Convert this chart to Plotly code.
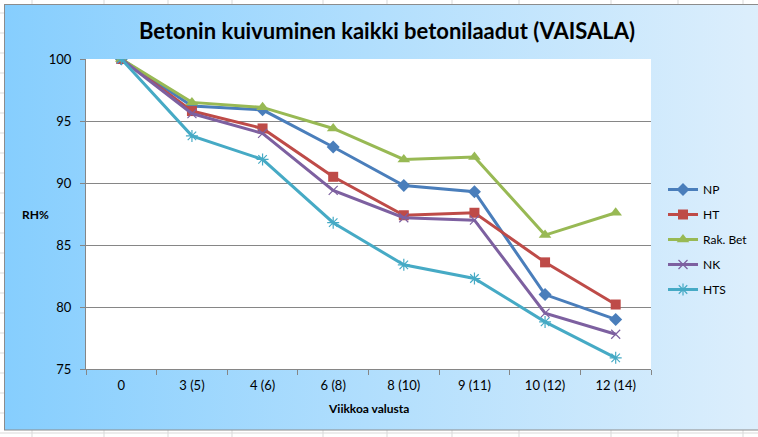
import base64
import plotly.graph_objects as go

categories = ["0", "3 (5)", "4 (6)", "6 (8)", "8 (10)", "9 (11)", "10 (12)", "12 (14)"]
np_vals = [100, 96.2, 95.9, 92.9, 89.8, 89.3, 81.0, 79.0]
ht_vals = [100, 95.8, 94.4, 90.5, 87.4, 87.6, 83.6, 80.2]
rak_vals = [100, 96.5, 96.1, 94.4, 91.9, 92.1, 85.8, 87.6]
nk_vals = [100, 95.6, 94.0, 89.4, 87.2, 87.0, 79.5, 77.8]
hts_vals = [100, 93.8, 91.9, 86.8, 83.4, 82.3, 78.8, 75.9]

W, H = 758, 437
L, R, T, B = 86, 651, 59, 369  # plot area in pixels
pw, ph = R - L, B - T

# background: excel sheet grid + gradient chart area (decoration)
grid_x = [32, 104, 168, 232, 323, 387, 452, 519, 611, 678, 743]
grid_lines = "".join(f'<line x1="{x}" y1="0" x2="{x}" y2="{H}" stroke="#D9D9D9" stroke-width="1"/>' for x in grid_x)
grid_lines += "".join(f'<line x1="0" y1="{y}" x2="{W}" y2="{y}" stroke="#D9D9D9" stroke-width="1"/>' for y in range(13, H, 20))
svg = f'''<svg xmlns="http://www.w3.org/2000/svg" width="{W}" height="{H}" viewBox="0 0 {W} {H}" preserveAspectRatio="none">
<defs><linearGradient id="g" x1="0" y1="0" x2="1" y2="0">
<stop offset="0" stop-color="#86CEFE"/><stop offset="0.5" stop-color="#B3DFFD"/><stop offset="1" stop-color="#DEEFFC"/>
</linearGradient></defs>
<rect x="0" y="0" width="{W}" height="{H}" fill="#FFFFFF"/>
{grid_lines}
<rect x="4.5" y="4.5" width="{W+10}" height="{430-4.5}" fill="url(#g)" stroke="#8C8C8C" stroke-width="1"/>
<rect x="{L}" y="{T}" width="{pw}" height="{ph}" fill="#FFFFFF"/>
</svg>'''
src = "data:image/svg+xml;base64," + base64.b64encode(svg.encode()).decode()

series = [
    ("NP", np_vals, "#4A7EBB", "diamond", 10, 0),
    ("HT", ht_vals, "#BE4B48", "square", 10, 0),
    ("Rak. Bet", rak_vals, "#98B954", "triangle-up", 11, 0),
    ("NK", nk_vals, "#7D60A0", "x-thin", 9, 1.2),
    ("HTS", hts_vals, "#46AAC5", "asterisk", 10, 1.2),
]

fig = go.Figure()
for i, (name, vals, col, sym, size, lw) in enumerate(series):
    fig.add_trace(go.Scatter(
        x=categories, y=vals, name=name, mode="lines+markers",
        line=dict(color=col, width=3),
        marker=dict(symbol=sym, size=size, color=col, line=dict(color=col, width=lw)),
        legendgroup=f"g{i}",
    ))

font_family = "Lato, 'Open Sans', sans-serif"
fig.update_layout(
    width=W, height=H,
    margin=dict(l=L, r=W - R, t=T, b=H - B, autoexpand=False),
    paper_bgcolor="white", plot_bgcolor="white",
    font=dict(family=font_family, size=13, color="#000000"),
    images=[dict(source=src, xref="paper", yref="paper",
                 x=-L / pw, y=1 + T / ph, sizex=W / pw, sizey=H / ph,
                 xanchor="left", yanchor="top", sizing="stretch", layer="below")],
    title=dict(text="<b>Betonin kuivuminen kaikki betonilaadut (VAISALA)</b>",
               x=387 / W, xanchor="center", y=1 - 31 / H, yanchor="middle",
               font=dict(family=font_family, size=22, color="#000000")),
    showlegend=True,
    legend=dict(x=(663 - L) / pw, y=1 - (175 - T) / ph, xanchor="left", yanchor="top",
                bgcolor="rgba(0,0,0,0)", font=dict(size=12, color="#000000"),
                traceorder="grouped", tracegroupgap=6),
    annotations=[
        dict(text="<b>RH%</b>", xref="paper", yref="paper", x=(35 - L) / pw, y=1 - (215 - T) / ph,
             showarrow=False, xanchor="center", yanchor="middle", font=dict(size=12)),
        dict(text="<b>Viikkoa valusta</b>", xref="paper", yref="paper", x=(368 - L) / pw, y=1 - (408 - T) / ph,
             showarrow=False, xanchor="center", yanchor="middle", font=dict(size=12)),
    ],
)
fig.update_yaxes(range=[75, 100], dtick=5, tick0=75, showgrid=True, gridcolor="#868686", gridwidth=1,
                 showline=True, linecolor="#868686", linewidth=1, ticks="outside", ticklen=5,
                 tickcolor="#868686", zeroline=False, ticklabelstandoff=6, tickfont=dict(size=13))
fig.update_xaxes(type="category", tickson="boundaries", showgrid=False, showline=True,
                 linecolor="#868686", linewidth=1, ticks="outside", ticklen=5, tickcolor="#868686",
                 range=[-0.5, 7.5], ticklabelstandoff=4, tickfont=dict(size=13))

fig.write_html("out.html", config={"displayModeBar": False},
               post_script="document.body.style.margin='0px';document.body.style.overflow='hidden';")
